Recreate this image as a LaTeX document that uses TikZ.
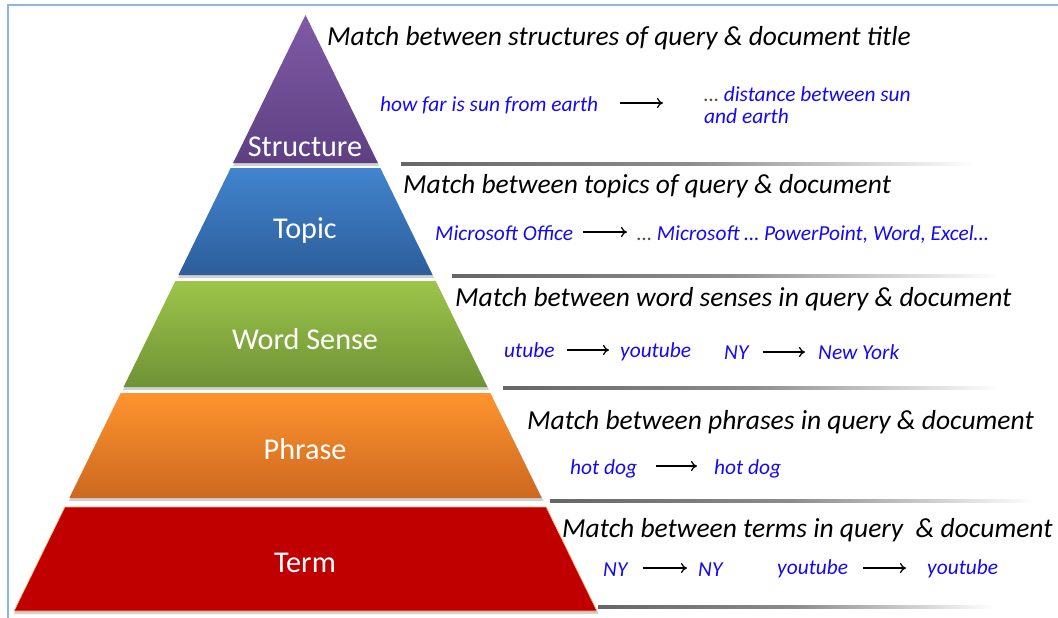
\documentclass[tikz,border=0pt]{standalone}
\usepackage{fontspec}
\setmainfont{Carlito}
\usetikzlibrary{arrows.meta}
\definecolor{framec}{RGB}{141,180,226}
\definecolor{exblue}{RGB}{20,10,245}
\definecolor{dots}{RGB}{90,80,60}
\definecolor{strT}{RGB}{128,90,166}\definecolor{strB}{RGB}{94,64,130}
\definecolor{topT}{RGB}{66,132,206}\definecolor{topB}{RGB}{44,94,154}
\definecolor{wsT}{RGB}{157,197,74}\definecolor{wsB}{RGB}{110,146,54}
\definecolor{phT}{RGB}{255,148,46}\definecolor{phB}{RGB}{204,104,32}
\definecolor{termc}{RGB}{192,0,0}
\tikzset{
  head/.style={anchor=base west, inner sep=0pt, font=\fontsize{27.5}{31}\selectfont\itshape, text=black},
  ex/.style={anchor=base west, inner sep=0pt, font=\fontsize{21.4}{24}\selectfont\itshape, text=exblue},
  lab/.style={anchor=base, inner sep=0pt, font=\fontsize{30.2}{33}\selectfont, text=white},
  arr/.style={-{To[length=6pt,width=10pt]}, line width=1.2pt, black},
  shadowc/.style={fill=black!18},
}
\begin{document}
\begin{tikzpicture}[x=1pt,y=1pt]
\useasboundingbox (0,0) rectangle (1058,-618);
\clip (0,0) rectangle (1058,-618);
\fill[white] (0,0) rectangle (1058,-618);
\draw[framec, line width=1.5pt] (8,-5) rectangle (1080,-640);

% shadows of layers
\fill[shadowc] (305.5,-17) -- (379,-166) -- (233,-166) -- cycle;
\fill[shadowc] (230.7,-170) -- (381.3,-170) -- (434,-278) -- (178,-278) -- cycle;
\fill[shadowc] (175.4,-283) -- (436.6,-283) -- (489,-390) -- (123,-390) -- cycle;
\fill[shadowc] (120.7,-395) -- (491.3,-395) -- (543.5,-501) -- (69,-501) -- cycle;
\fill[shadowc] (64.9,-509) -- (547,-509) -- (598.5,-614) -- (14,-614) -- cycle;

% layers
\shade[top color=strT, bottom color=strB] (305.5,-15) -- (377.9,-163) -- (233.1,-163) -- cycle;
\shade[top color=topT, bottom color=topB] (230.7,-168) -- (380.3,-168) -- (432.6,-275) -- (178.4,-275) -- cycle;
\shade[top color=wsT, bottom color=wsB] (175.4,-281) -- (435.6,-281) -- (487.4,-387) -- (123.6,-387) -- cycle;
\shade[top color=phT, bottom color=phB] (120.7,-393) -- (490.3,-393) -- (541.7,-498) -- (69.3,-498) -- cycle;
\fill[termc] (64.9,-507) -- (546.1,-507) -- (596.9,-611) -- (14.1,-611) -- cycle;
\draw[orange!60!white, line width=0.6pt] (64.9,-507) -- (546.1,-507) -- (596.9,-611) -- (14.1,-611) -- cycle;

% layer labels
\node[lab] (lstr) at (305,-156) {Structure};
\node[lab] (ltop) at (305,-238) {Topic};
\node[lab] (lws) at (305,-349) {Word Sense};
\node[lab] (lph) at (305,-459) {Phrase};
\node[lab] (lterm) at (305,-572) {Term};

% separator rules
\shade[left color=black!60, right color=white, middle color=black!45] (401,-162.5) rectangle (975,-165.5);
\shade[left color=black!60, right color=white, middle color=black!45] (452,-274.5) rectangle (1000,-277.5);
\shade[left color=black!60, right color=white, middle color=black!45] (503,-386.5) rectangle (1000,-389.5);
\shade[left color=black!60, right color=white, middle color=black!45] (550,-499.5) rectangle (1035,-502.5);
\shade[left color=black!60, right color=white, middle color=black!45] (598,-605.5) rectangle (995,-608.5);

% headings
\node[head] (h1) at (327,-46) {Match between structures of query \& document title};
\node[head] (h2) at (403,-193) {Match between topics of query \& document};
\node[head] (h3) at (455,-306) {Match between word senses in query \& document};
\node[head] (h4) at (527,-429) {Match between phrases in query \& document};
\node[head] (h5) at (562,-537) {Match between terms in query~~\& document};

% structure example
\node[ex] (s1) at (380,-111) {how far is sun from earth};
\node[ex] (s2) at (704,-101) {{\color{dots}…} distance between sun};
\node[ex] (s3) at (704,-124) {and earth};
\draw[arr] ([shift={(22,8)}]s1.base east) -- ([shift={(-41,8)}]s1.base east -| s2.base west);

% topic example
\node[ex] (t1) at (435,-240) {Microsoft Office};
\node[ex] (t2) at (637,-240) {{\color{dots}…} Microsoft … PowerPoint, Word, Excel…};
\draw[arr] ([shift={(10,8)}]t1.base east) -- ([shift={(-10,8)}]t2.base west);

% word sense example
\node[ex] (w1) at (504,-357) {utube};
\node[ex] (w2) at (620,-357) {youtube};
\node[ex] (w3) at (724,-359) {NY};
\node[ex] (w4) at (818,-359) {New York};
\draw[arr] ([shift={(12,7)}]w1.base east) -- ([shift={(-11,7)}]w2.base west);
\draw[arr] ([shift={(14,7)}]w3.base east) -- ([shift={(-13,7)}]w4.base west);

% phrase example
\node[ex] (p1) at (570,-474) {hot dog};
\node[ex] (p2) at (714,-474) {hot dog};
\draw[arr] ([shift={(19,8)}]p1.base east) -- ([shift={(-17,8)}]p2.base west);

% term example
\node[ex] (e1) at (603,-576) {NY};
\node[ex] (e2) at (698,-576) {NY};
\node[ex] (e3) at (777,-574) {youtube};
\node[ex] (e4) at (927,-574) {youtube};
\draw[arr] ([shift={(15,8)}]e1.base east) -- ([shift={(-11,8)}]e2.base west);
\draw[arr] ([shift={(15,6)}]e3.base east) -- ([shift={(-21,6)}]e4.base west);
\end{tikzpicture}
\end{document}
